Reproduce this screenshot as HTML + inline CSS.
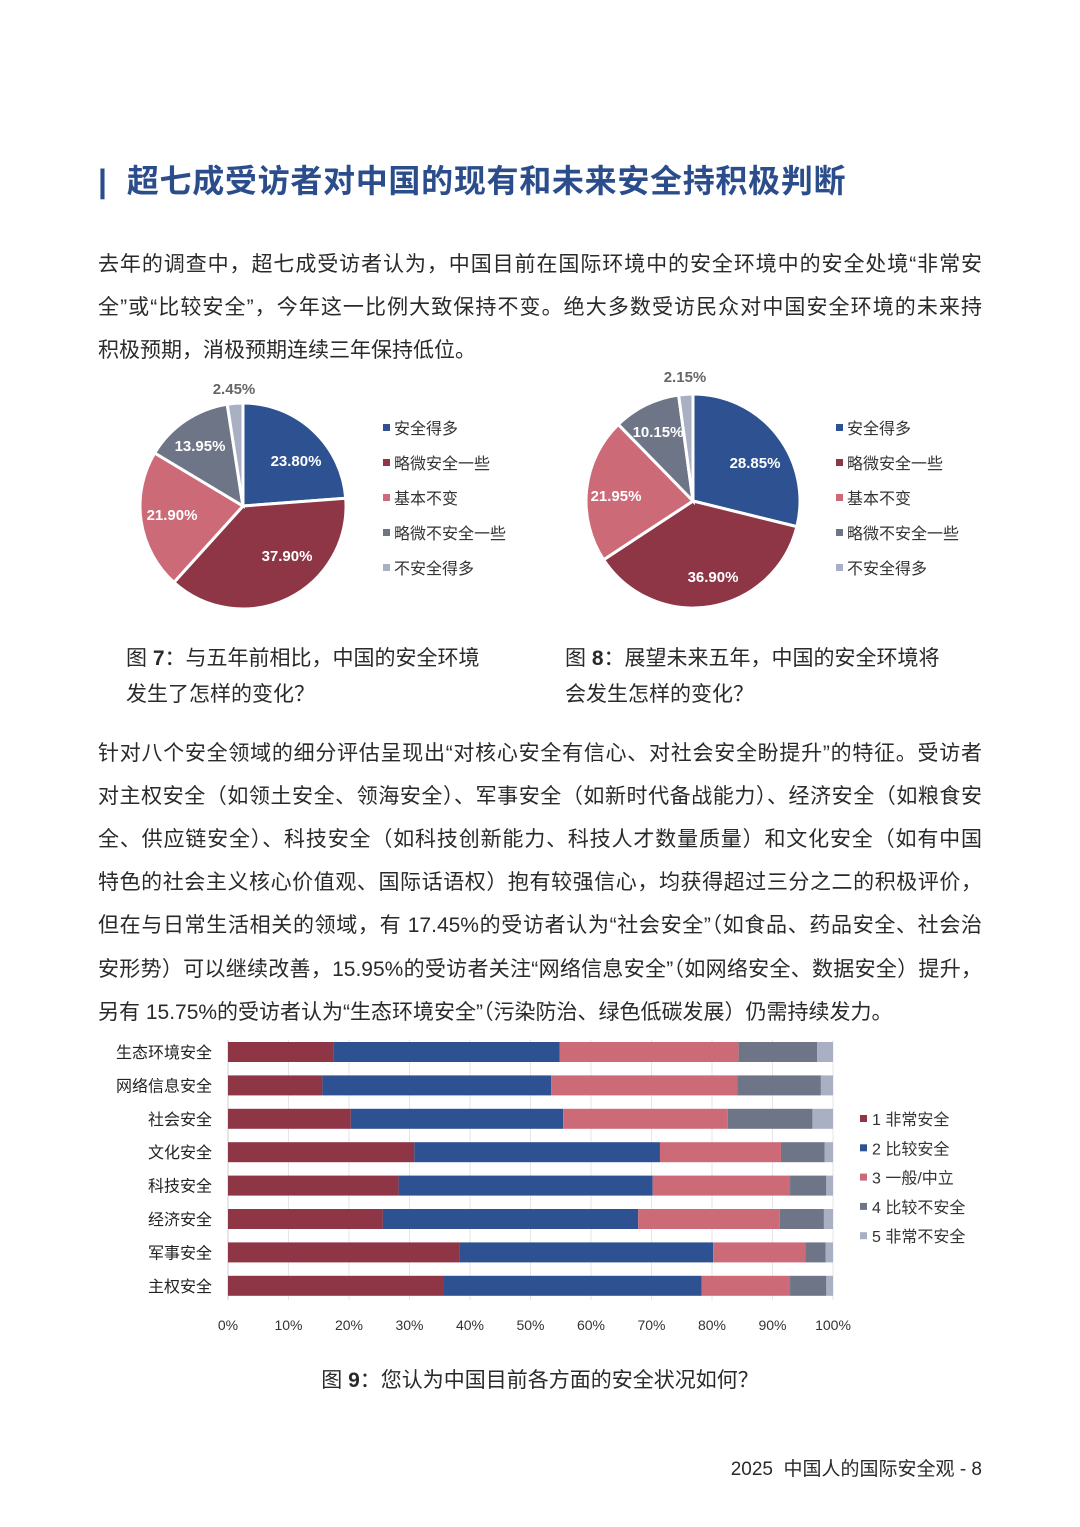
<!DOCTYPE html>
<html><head><meta charset="utf-8"><style>
body{margin:0;background:#fff;}
#p{position:relative;width:1080px;height:1527px;overflow:hidden;font-family:"Liberation Sans","Noto Sans CJK SC",sans-serif;color:#2a2a2a;}
.t{position:absolute;white-space:nowrap;}
.ln{position:absolute;left:98px;width:884px;font-size:21px;text-align:justify;text-align-last:justify;white-space:nowrap;height:30px;line-height:30px;}
svg{position:absolute;left:0;top:0;}
</style></head><body><div id="p">
<div class="t" style="left:98px;top:156px;font-size:32px;font-weight:bold;color:#2b4d8c;letter-spacing:0.7px;">| &nbsp;超七成受访者对中国的现有和未来安全持积极判断</div>
<div class="ln" style="top:250px">去年的调查中，超七成受访者认为，中国目前在国际环境中的安全环境中的安全处境“非常安</div>
<div class="ln" style="top:293px">全”或“比较安全”，今年这一比例大致保持不变。绝大多数受访民众对中国安全环境的未来持</div>
<div class="ln" style="top:336px;width:auto;text-align-last:auto">积极预期，消极预期连续三年保持低位。</div>

<div class="t" style="left:126px;top:641px;font-size:21px;line-height:36px">图 <b>7</b>：与五年前相比，中国的安全环境<br>发生了怎样的变化？</div>
<div class="t" style="left:565px;top:641px;font-size:21px;line-height:36px">图 <b>8</b>：展望未来五年，中国的安全环境将<br>会发生怎样的变化？</div>

<div class="ln" style="top:739px">针对八个安全领域的细分评估呈现出“对核心安全有信心、对社会安全盼提升”的特征。受访者</div>
<div class="ln" style="top:782px">对主权安全（如领土安全、领海安全）、军事安全（如新时代备战能力）、经济安全（如粮食安</div>
<div class="ln" style="top:825px">全、供应链安全）、科技安全（如科技创新能力、科技人才数量质量）和文化安全（如有中国</div>
<div class="ln" style="top:868px">特色的社会主义核心价值观、国际话语权）抱有较强信心，均获得超过三分之二的积极评价，</div>
<div class="ln" style="top:911px">但在与日常生活相关的领域，有 17.45%的受访者认为“社会安全”（如食品、药品安全、社会治</div>
<div class="ln" style="top:955px">安形势）可以继续改善，15.95%的受访者关注“网络信息安全”（如网络安全、数据安全）提升，</div>
<div class="ln" style="top:998px;width:auto;text-align-last:auto">另有 15.75%的受访者认为“生态环境安全”（污染防治、绿色低碳发展）仍需持续发力。</div>

<div class="t" style="left:0;width:1080px;text-align:center;top:1364px;font-size:21px;">图 <b>9</b>：您认为中国目前各方面的安全状况如何？</div>
<div class="t" style="right:98px;top:1454px;font-size:19px;">2025&nbsp; 中国人的国际安全观 - 8</div>

<svg id="s" width="1080" height="1527" font-family="Liberation Sans, Noto Sans CJK SC, sans-serif"></svg>
</div>
<script>
var C=['#2e5291','#8e3546','#cd6a78','#6e7587','#aab0c4'];
var BC=['#8e3546','#2e5291','#cd6a78','#6e7587','#aab0c4'];
var s='';
function pie(cx,cy,r,v){var a=0;for(var i=0;i<v.length;i++){var a0=a*3.6*Math.PI/180;a+=v[i];var a1=a*3.6*Math.PI/180;
var x0=cx+r*Math.sin(a0),y0=cy-r*Math.cos(a0),x1=cx+r*Math.sin(a1),y1=cy-r*Math.cos(a1);
s+='<path d="M'+cx+','+cy+'L'+x0+','+y0+'A'+r+','+r+' 0 '+(v[i]>50?1:0)+' 1 '+x1+','+y1+'Z" fill="'+C[i]+'" stroke="#fff" stroke-width="3"/>';}}
pie(243,506,103,[23.8,37.9,21.9,13.95,2.45]);
pie(693,501,107,[28.85,36.9,21.95,10.15,2.15]);
function lab(x,y,t,c){s+='<text x="'+x+'" y="'+y+'" text-anchor="middle" font-size="15" font-weight="bold" fill="'+c+'">'+t+'</text>';}
lab(296,466,'23.80%','#fff');lab(287,561,'37.90%','#fff');lab(172,520,'21.90%','#fff');lab(200,451,'13.95%','#fff');lab(234,394,'2.45%','#666');
lab(755,468,'28.85%','#fff');lab(713,582,'36.90%','#fff');lab(616,501,'21.95%','#fff');lab(658,437,'10.15%','#fff');lab(685,382,'2.15%','#666');
var L=['安全得多','略微安全一些','基本不变','略微不安全一些','不安全得多'];
function leg(x,y0){for(var i=0;i<5;i++){var y=y0+i*35;s+='<rect x="'+x+'" y="'+(y-4)+'" width="7" height="7" fill="'+C[i]+'"/><text x="'+(x+11)+'" y="'+(y+6)+'" font-size="16" fill="#333">'+L[i]+'</text>';}}
leg(383,428);leg(836,428);
var x0=228,W=605;
for(var k=0;k<=10;k++){var gx=x0+W*k/10;s+='<line x1="'+gx+'" y1="1040" x2="'+gx+'" y2="1300" stroke="#e6e6e6"/>';
s+='<text x="'+gx+'" y="1330" text-anchor="middle" font-size="14" fill="#333">'+(k*10)+'%</text>';}
s+='<line x1="'+x0+'" y1="1040" x2="'+x0+'" y2="1300" stroke="#ccc"/>';
var N=['生态环境安全','网络信息安全','社会安全','文化安全','科技安全','经济安全','军事安全','主权安全'];
var D=[[17.5,54.8,84.4,97.4],[15.6,53.4,84.2,98.0],[20.3,55.4,82.6,96.6],[30.8,71.4,91.4,98.6],[28.2,70.2,92.9,98.9],[25.6,67.8,91.2,98.5],[38.2,80.2,95.4,98.8],[35.7,78.3,92.9,98.9]];
for(var r=0;r<8;r++){var cy=1052+r*33.4;var b=[0].concat(D[r]).concat([100]);
for(var j=0;j<5;j++){var xa=x0+W*b[j]/100,xb=x0+W*b[j+1]/100;s+='<rect x="'+xa+'" y="'+(cy-10)+'" width="'+(xb-xa)+'" height="20" fill="'+BC[j]+'"/>';}
s+='<text x="212" y="'+(cy+6)+'" text-anchor="end" font-size="16" fill="#222">'+N[r]+'</text>';}
var BL=['1 非常安全','2 比较安全','3 一般/中立','4 比较不安全','5 非常不安全'];
for(var i=0;i<5;i++){var y=1119+i*29.3;s+='<rect x="860" y="'+(y-4)+'" width="7" height="7" fill="'+BC[i]+'"/><text x="872" y="'+(y+6)+'" font-size="16" fill="#333">'+BL[i]+'</text>';}
document.getElementById('s').innerHTML=s;
</script>
</body></html>
